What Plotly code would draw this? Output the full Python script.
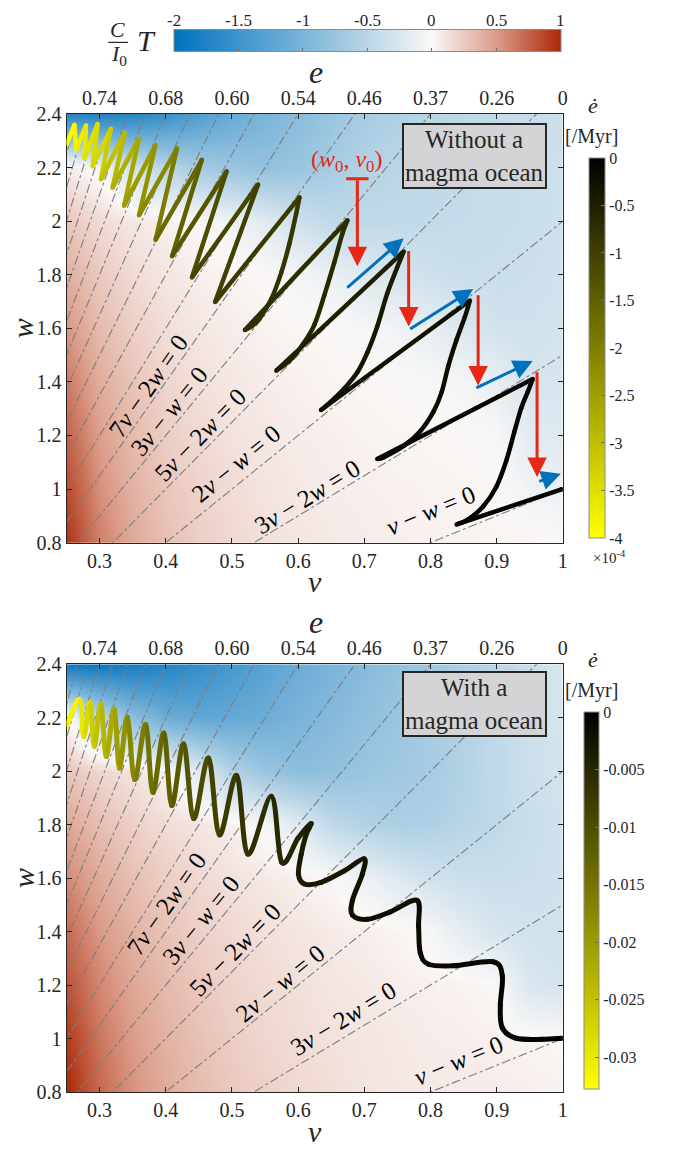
import math
import plotly.graph_objects as go
from plotly.colors import sample_colorscale

FIG_W, FIG_H = 685, 1154
SERIF = "Liberation Serif"
INK = "rgb(38,38,38)"
RED = "rgb(232,38,22)"
BLUE = "rgb(0,114,189)"

# ------------------------------------------------------------------ data
nu_grid = [0.25, 0.30, 0.35, 0.40, 0.45, 0.50, 0.55, 0.60, 0.65, 0.70, 0.75, 0.80, 0.85, 0.90, 0.95, 1.00]
w_grid = [0.8, 1.0, 1.2, 1.4, 1.6, 1.8, 2.0, 2.2, 2.4]

# torque C/I0 T, without a magma ocean (rows = w_grid, cols = nu_grid)
torque_top = [
    [0.95, 0.62, 0.43, 0.31, 0.23, 0.17, 0.13, 0.10, 0.08, 0.06, 0.05, 0.04, 0.03, 0.02, 0.02, 0.01],
    [0.85, 0.55, 0.38, 0.27, 0.20, 0.15, 0.11, 0.08, 0.06, 0.05, 0.04, 0.03, 0.02, 0.00, -0.08, -0.12],
    [0.75, 0.48, 0.33, 0.23, 0.17, 0.12, 0.09, 0.06, 0.05, 0.03, 0.02, 0.01, 0.00, -0.02, -0.18, -0.22],
    [0.64, 0.41, 0.28, 0.19, 0.13, 0.09, 0.06, 0.04, 0.02, 0.01, 0.00, -0.02, -0.05, -0.15, -0.28, -0.27],
    [0.52, 0.33, 0.22, 0.14, 0.09, 0.06, 0.03, 0.01, 0.00, -0.03, -0.08, -0.15, -0.25, -0.32, -0.33, -0.30],
    [0.40, 0.25, 0.16, 0.10, 0.05, 0.02, 0.00, -0.05, -0.12, -0.22, -0.30, -0.35, -0.38, -0.38, -0.36, -0.33],
    [0.27, 0.16, 0.09, 0.04, 0.00, -0.08, -0.20, -0.35, -0.45, -0.45, -0.45, -0.43, -0.42, -0.40, -0.38, -0.35],
    [0.08, -0.05, -0.30, -0.50, -0.65, -0.75, -0.80, -0.75, -0.65, -0.55, -0.50, -0.46, -0.43, -0.40, -0.38, -0.35],
    [-1.70, -1.75, -1.70, -1.55, -1.35, -1.15, -1.00, -0.88, -0.75, -0.65, -0.58, -0.52, -0.47, -0.43, -0.40, -0.36],
]
# torque C/I0 T, with a magma ocean
torque_bot = [
    [1.00, 0.72, 0.54, 0.42, 0.33, 0.26, 0.21, 0.17, 0.14, 0.11, 0.09, 0.08, 0.07, 0.06, 0.05, 0.04],
    [0.92, 0.66, 0.49, 0.38, 0.30, 0.23, 0.18, 0.15, 0.12, 0.10, 0.08, 0.06, 0.05, 0.04, 0.02, 0.00],
    [0.82, 0.59, 0.44, 0.34, 0.26, 0.20, 0.16, 0.13, 0.10, 0.08, 0.06, 0.04, 0.03, 0.00, -0.25, -0.30],
    [0.71, 0.51, 0.38, 0.29, 0.22, 0.17, 0.13, 0.10, 0.07, 0.05, 0.02, -0.03, -0.18, -0.28, -0.32, -0.32],
    [0.58, 0.42, 0.31, 0.23, 0.17, 0.12, 0.08, 0.04, 0.00, -0.10, -0.22, -0.32, -0.36, -0.38, -0.36, -0.33],
    [0.44, 0.31, 0.22, 0.15, 0.10, 0.04, -0.04, -0.20, -0.45, -0.55, -0.60, -0.58, -0.52, -0.45, -0.38, -0.33],
    [0.27, 0.18, 0.11, 0.02, -0.20, -0.55, -0.75, -0.85, -0.82, -0.75, -0.70, -0.65, -0.55, -0.45, -0.36, -0.30],
    [0.02, -0.45, -0.85, -1.10, -1.20, -1.18, -1.10, -1.00, -0.92, -0.83, -0.75, -0.65, -0.55, -0.45, -0.35, -0.28],
    [-1.90, -1.90, -1.82, -1.72, -1.58, -1.42, -1.27, -1.12, -1.00, -0.90, -0.80, -0.70, -0.60, -0.50, -0.37, -0.26],
]
torque_range = [-2.0, 1.0]
torque_ticks = [-2, -1.5, -1, -0.5, 0, 0.5, 1]
torque_ticktext = ["-2", "-1.5", "-1", "-0.5", "0", "0.5", "1"]

# resonance lines  k*nu - j*w = 0  ->  w = ratio * nu
resonance_ratios = [1.0, 1.5, 2.0, 2.5, 3.0, 3.5, 4.0, 4.5, 5.0, 5.5, 6.0, 6.5, 7.0, 7.5, 8.0, 8.5, 9.0, 9.5]

nu_ticks = [0.3, 0.4, 0.5, 0.6, 0.7, 0.8, 0.9, 1.0]
nu_ticktext = ["0.3", "0.4", "0.5", "0.6", "0.7", "0.8", "0.9", "1"]
e_ticktext = ["0.74", "0.68", "0.60", "0.54", "0.46", "0.37", "0.26", "0"]
w_ticks = [0.8, 1.0, 1.2, 1.4, 1.6, 1.8, 2.0, 2.2, 2.4]
w_ticktext = ["0.8", "1", "1.2", "1.4", "1.6", "1.8", "2", "2.2", "2.4"]

# trajectory without a magma ocean (edot in units of 1e-4 /Myr)
top_nu = [0.250, 0.262, 0.2645, 0.2795, 0.277, 0.297, 0.2895, 0.317, 0.302, 0.338,
          0.3195, 0.3595, 0.337, 0.3845, 0.3595, 0.417, 0.3845, 0.4545, 0.4095, 0.492,
          0.4395, 0.5395, 0.4745, 0.602, 0.597, 0.587, 0.5745, 0.5595, 0.542, 0.5295,
          0.5195, 0.6745, 0.667, 0.6545, 0.6395, 0.6245, 0.607, 0.587, 0.567, 0.7595,
          0.7495, 0.7345, 0.7195, 0.7045, 0.6895, 0.6695, 0.6495, 0.6345, 0.8595, 0.852,
          0.8395, 0.827, 0.817, 0.8045, 0.7845, 0.7595, 0.7295, 0.7195, 0.9545, 0.947,
          0.937, 0.927, 0.9145, 0.8995, 0.8795, 0.857, 0.8395, 0.998]
top_w = [2.284, 2.360, 2.266, 2.357, 2.235, 2.363, 2.205, 2.345, 2.156, 2.330,
         2.125, 2.308, 2.058, 2.284, 2.022, 2.272, 1.930, 2.229, 1.869, 2.186,
         1.790, 2.137, 1.698, 2.089, 2.028, 1.918, 1.808, 1.710, 1.637, 1.607,
         1.594, 2.003, 1.955, 1.845, 1.723, 1.613, 1.540, 1.479, 1.442, 1.887,
         1.826, 1.729, 1.607, 1.509, 1.436, 1.375, 1.326, 1.295, 1.704, 1.643,
         1.558, 1.460, 1.363, 1.289, 1.216, 1.161, 1.119, 1.112, 1.411, 1.363,
         1.302, 1.216, 1.106, 1.009, 0.935, 0.887, 0.868, 0.999]
top_edot = [-3.9, -3.9, -3.8, -3.7, -3.6, -3.5, -3.4, -3.3, -3.1, -3.0,
            -2.8, -2.7, -2.5, -2.4, -2.2, -2.1, -1.8, -1.5, -1.5, -1.2,
            -1.2, -1.0, -1.0, -0.85, -0.85, -0.85, -0.8, -0.8, -0.8, -0.75,
            -0.75, -0.7, -0.7, -0.65, -0.65, -0.6, -0.6, -0.55, -0.5, -0.45,
            -0.45, -0.4, -0.4, -0.35, -0.35, -0.3, -0.3, -0.28, -0.25, -0.25,
            -0.22, -0.2, -0.2, -0.18, -0.16, -0.15, -0.14, -0.12, -0.1, -0.1,
            -0.1, -0.08, -0.08, -0.06, -0.06, -0.05, -0.05, -0.03]

# trajectory with a magma ocean (edot in /Myr)
bot_nu = [0.2495, 0.2695, 0.276, 0.2855, 0.292, 0.302, 0.310, 0.322, 0.330, 0.342,
          0.353, 0.3695, 0.3805, 0.397, 0.409, 0.427, 0.442, 0.4645, 0.481, 0.507,
          0.524, 0.5595, 0.575, 0.600, 0.6195, 0.612, 0.6045, 0.6005, 0.6095,
          0.6345, 0.6695, 0.6995, 0.697, 0.682, 0.682, 0.7045, 0.7395, 0.7795, 0.782,
          0.7845, 0.797, 0.8345, 0.8945, 0.9085, 0.9055, 0.9085, 0.9295, 0.9695, 0.998]
bot_w = [2.165, 2.269, 2.130, 2.257, 2.093, 2.251, 2.055, 2.232, 2.012, 2.202,
         1.969, 2.175, 1.921, 2.143, 1.872, 2.102, 1.823, 2.049, 1.762, 1.984,
         1.690, 1.906, 1.660, 1.750, 1.804, 1.762, 1.688, 1.615, 1.578,
         1.584, 1.627, 1.673, 1.615, 1.517, 1.462, 1.446, 1.474, 1.517, 1.419,
         1.321, 1.278, 1.272, 1.287, 1.235, 1.125, 1.040, 1.001, 0.997, 1.001]
bot_edot = [-0.032, -0.031, -0.029, -0.027, -0.026, -0.024, -0.023, -0.021, -0.020, -0.018,
            -0.017, -0.015, -0.014, -0.013, -0.012, -0.011, -0.010, -0.009, -0.008, -0.007,
            -0.0062, -0.0056, -0.005, -0.0045, -0.004, -0.0038, -0.0036, -0.0034, -0.0032,
            -0.003, -0.0028, -0.0026, -0.0024, -0.0022, -0.002, -0.0018, -0.0016, -0.0015, -0.0014,
            -0.0013, -0.0012, -0.0011, -0.001, -0.0008, -0.0006, -0.0005, -0.0003, -0.0002, -0.0001]

edot_top_ticks = [0, -0.5, -1, -1.5, -2, -2.5, -3, -3.5, -4]
edot_top_ticktext = ["0", "-0.5", "-1", "-1.5", "-2", "-2.5", "-3", "-3.5", "-4"]
edot_bot_ticks = [0, -0.005, -0.01, -0.015, -0.02, -0.025, -0.03]
edot_bot_ticktext = ["0", "-0.005", "-0.01", "-0.015", "-0.02", "-0.025", "-0.03"]
edot_top_range = [-4.0, 0.0]
edot_bot_range = [-0.0328, 0.0]

# resonance labels
label_text = ["7<i>ν</i> − 2<i>w</i> = 0", "3<i>ν</i> − <i>w</i> = 0", "5<i>ν</i> − 2<i>w</i> = 0",
              "2<i>ν</i> − <i>w</i> = 0", "3<i>ν</i> − 2<i>w</i> = 0", "<i>ν</i> − <i>w</i> = 0"]
label_ratio = [3.5, 3.0, 2.5, 2.0, 1.5, 1.0]
label_nu_top = [0.3745, 0.4045, 0.4525, 0.5065, 0.6145, 0.8005]
label_w_top = [1.386, 1.291, 1.203, 1.096, 0.972, 0.920]
label_nu_bot = [0.4015, 0.4525, 0.505, 0.5725, 0.6685, 0.8425]
label_w_bot = [1.505, 1.442, 1.332, 1.207, 1.075, 0.917]

# spin-down (red) and resonance-drift (blue) arrows, top panel
drop_nu = [0.6895, 0.767, 0.872, 0.961]
drop_w_start = [2.158, 1.894, 1.729, 1.442]
drop_w_end = [1.832, 1.607, 1.387, 1.045]
slide_nu_start = [0.672, 0.767, 0.867, 0.962]
slide_w_start = [1.747, 1.594, 1.375, 1.027]
slide_nu_end = [0.7595, 0.8645, 0.9545, 0.997]
slide_w_end = [1.936, 1.747, 1.478, 1.057]

# ------------------------------------------------------------------ geometry
PX_L, PX_R = 67, 567
TOP_T, TOP_B = 105, 542
BOT_T, BOT_B = 666, 1102
CB_L, CB_R, CB_T, CB_B = 175, 565, 22, 44   # horizontal torque colour bar


def fx(px):
    return px / FIG_W


def fy(py):
    return 1 - py / FIG_H


def paper_text(px, py, text, size, angle=0, color=INK):
    return dict(x=fx(px), y=fy(py), xref="paper", yref="paper", text=text, showarrow=False,
                xanchor="center", yanchor="middle", textangle=angle,
                font=dict(family=SERIF, size=size, color=color))


torque_cs = [[0.0, "rgb(0,114,189)"], [0.1667, "rgb(62,148,204)"], [0.3333, "rgb(122,180,217)"],
             [0.5, "rgb(186,214,230)"], [0.6667, "rgb(250,248,247)"], [0.8333, "rgb(219,156,137)"],
             [1.0, "rgb(172,40,6)"]]
edot_cs = [[0.0, "rgb(255,255,0)"], [1.0, "rgb(0,0,0)"]]

fig = go.Figure()
shapes = []
annotations = []

panels = [
    dict(xa="x", ya="y", xe="x2", top=TOP_T, bot=TOP_B, z=torque_top, nu=top_nu, w=top_w, ed=top_edot,
         rng=edot_top_range, ticks=edot_top_ticks, tt=edot_top_ticktext, split=True, lw=4.5,
         cbx=593, cbthick=16, cbtop=150, cbbot=537,
         lnu=label_nu_top, lw_=label_w_top, box="Without a<br>magma ocean", box_w=2.244),
    dict(xa="x3", ya="y2", xe="x4", top=BOT_T, bot=BOT_B, z=torque_bot, nu=bot_nu, w=bot_w, ed=bot_edot,
         rng=edot_bot_range, ticks=edot_bot_ticks, tt=edot_bot_ticktext, split=False, lw=5,
         cbx=588, cbthick=15, cbtop=715, cbbot=1099,
         lnu=label_nu_bot, lw_=label_w_bot, box="With a<br>magma ocean", box_w=2.251),
]

for k, p in enumerate(panels):
    # background torque field
    hm = dict(x=nu_grid, y=w_grid, z=p["z"], colorscale=torque_cs, zmin=torque_range[0], zmax=torque_range[1],
              zsmooth="best", xaxis=p["xa"], yaxis=p["ya"], hoverinfo="skip", showscale=(k == 0))
    if k == 0:
        hm["colorbar"] = dict(orientation="h", x=fx((CB_L + CB_R) / 2), xanchor="center",
                              y=fy((CB_T + CB_B) / 2), yanchor="middle",
                              len=(CB_R - CB_L) / FIG_W, lenmode="fraction", thickness=CB_B - CB_T,
                              thicknessmode="pixels", xpad=0, ypad=0, tickvals=torque_ticks,
                              showticklabels=False, ticks="inside", ticklen=4, tickcolor="rgb(110,110,110)",
                              outlinewidth=1, outlinecolor="rgb(140,140,140)")
    fig.add_trace(go.Heatmap(**hm))

    # resonance lines
    for r in resonance_ratios:
        fig.add_trace(go.Scatter(x=[0.0, 1.0], y=[0.0, r], mode="lines", xaxis=p["xa"], yaxis=p["ya"],
                                 line=dict(color="rgb(125,125,125)", width=1.1, dash="dashdot"),
                                 hoverinfo="skip", showlegend=False))

    # trajectory: vertex markers carry the colour scale (and the colour bar)
    cmin, cmax = p["rng"]
    fig.add_trace(go.Scatter(
        x=p["nu"], y=p["w"], mode="markers", xaxis=p["xa"], yaxis=p["ya"], hoverinfo="skip", showlegend=False,
        marker=dict(size=p["lw"], color=p["ed"], colorscale=edot_cs, cmin=cmin, cmax=cmax, showscale=True,
                    line=dict(width=0),
                    colorbar=dict(x=fx(p["cbx"]), xanchor="left", y=fy((p["cbtop"] + p["cbbot"]) / 2),
                                  yanchor="middle", len=(p["cbbot"] - p["cbtop"]) / FIG_H, lenmode="fraction",
                                  thickness=p["cbthick"], thicknessmode="pixels", xpad=0, ypad=0,
                                  tickvals=p["ticks"], ticktext=p["tt"], ticks="inside", ticklen=4,
                                  tickcolor="rgb(110,110,110)",
                                  tickfont=dict(family=SERIF, size=16, color=INK),
                                  outlinewidth=1, outlinecolor="rgb(140,140,140)"))))

    # trajectory: smooth cubic segments through the read vertices
    nu, w, ed = p["nu"], p["w"], p["ed"]
    n = len(nu)
    assert len(w) == n and len(ed) == n
    breaks = {0, n - 1}
    if p["split"]:
        for i in range(1, n - 1):
            if (w[i] - w[i - 1]) * (w[i + 1] - w[i]) < 0:
                breaks.add(i)
    for i in range(n - 1):
        p1 = (nu[i], w[i])
        p2 = (nu[i + 1], w[i + 1])
        p0 = p1 if i in breaks else (nu[i - 1], w[i - 1])
        p3 = p2 if (i + 1) in breaks else (nu[i + 2], w[i + 2])
        c1 = (p1[0] + (p2[0] - p0[0]) / 6, p1[1] + (p2[1] - p0[1]) / 6)
        c2 = (p2[0] - (p3[0] - p1[0]) / 6, p2[1] - (p3[1] - p1[1]) / 6)
        frac = ((ed[i] + ed[i + 1]) / 2 - cmin) / (cmax - cmin)
        col = sample_colorscale(edot_cs, [min(max(frac, 0), 1)])[0]
        shapes.append(dict(type="path", xref=p["xa"], yref=p["ya"], layer="above",
                           path=f"M {p1[0]},{p1[1]} C {c1[0]},{c1[1]} {c2[0]},{c2[1]} {p2[0]},{p2[1]}",
                           line=dict(color=col, width=p["lw"])))

    # invisible trace so the top (e) axis is rendered
    fig.add_trace(go.Scatter(x=[0.5], y=[1.0], mode="markers", xaxis=p["xe"], yaxis=p["ya"],
                             marker=dict(opacity=0), hoverinfo="skip", showlegend=False))

    # resonance labels
    px_per_nu = (PX_R - PX_L) / 0.75
    px_per_w = (p["bot"] - p["top"]) / 1.6
    for t, r, x, y in zip(label_text, label_ratio, p["lnu"], p["lw_"]):
        ang = -math.degrees(math.atan(r * px_per_w / px_per_nu))
        annotations.append(dict(x=x, y=y, xref=p["xa"], yref=p["ya"], text=t, showarrow=False,
                                xanchor="center", yanchor="middle",
                                textangle=ang, font=dict(family=SERIF, size=25, color="black")))

    # panel title box
    annotations.append(dict(x=0.8665, y=p["box_w"], xref=p["xa"], yref=p["ya"], text=p["box"], showarrow=False,
                            xanchor="center", yanchor="middle",
                            font=dict(family=SERIF, size=25, color=INK), bgcolor="rgb(212,212,214)",
                            bordercolor=INK, borderwidth=2, borderpad=1))

    # axis titles
    mid_y = (p["top"] + p["bot"]) / 2
    annotations.append(paper_text(317, p["bot"] + 40, "<i>ν</i>", 30))
    annotations.append(paper_text(318, p["top"] - 43, "<i>e</i>", 32))
    annotations.append(paper_text(23, mid_y, "<i>w</i>", 30, angle=-90))
    # colour bar titles
    annotations.append(paper_text(597, p["cbtop"] - 54, "<i>ė</i>", 22))
    annotations.append(paper_text(596, p["cbtop"] - 22, "[/Myr]", 20))

annotations.append(paper_text(614, 557, "×10<sup>-4</sup>", 15))

# tick labels of the horizontal torque colour bar (drawn above the bar)
for t, tt in zip(torque_ticks, torque_ticktext):
    frac = (t - torque_range[0]) / (torque_range[1] - torque_range[0])
    annotations.append(paper_text(CB_L + frac * (CB_R - CB_L), 10, tt, 17))

# arrows (top panel)
for i in range(len(drop_nu)):
    annotations.append(dict(x=drop_nu[i], y=drop_w_end[i], ax=drop_nu[i], ay=drop_w_start[i],
                            xref="x", yref="y", axref="x", ayref="y", text="", showarrow=True,
                            arrowhead=2, arrowsize=1.3, arrowwidth=3, arrowcolor=RED))
for i in range(len(slide_nu_start)):
    annotations.append(dict(x=slide_nu_end[i], y=slide_w_end[i], ax=slide_nu_start[i], ay=slide_w_start[i],
                            xref="x", yref="y", axref="x", ayref="y", text="", showarrow=True,
                            arrowhead=2, arrowsize=1.3, arrowwidth=3, arrowcolor=BLUE))
fig.add_trace(go.Scatter(x=[drop_nu[0]], y=[drop_w_start[0]], mode="markers", xaxis="x", yaxis="y",
                         marker=dict(symbol="line-ew", size=16, line=dict(width=3, color=RED)),
                         hoverinfo="skip", showlegend=False))
annotations.append(dict(x=0.673, y=2.224, xref="x", yref="y", showarrow=False, xanchor="center",
                        yanchor="middle", text="(<i>w</i><sub>0</sub>, <i>ν</i><sub>0</sub>)",
                        font=dict(family=SERIF, size=24, color=RED)))

# colour-bar label  C/I0 T
annotations.append(paper_text(118, 19, "<i>C</i>", 22))
annotations.append(paper_text(120, 45, "<i>I</i><sub>0</sub>", 22))
annotations.append(paper_text(148, 30, "<i>T</i>", 30))
shapes.append(dict(type="line", xref="paper", yref="paper", x0=fx(109), x1=fx(129), y0=fy(32), y1=fy(32),
                   line=dict(color=INK, width=1.2)))

axis_common = dict(showline=True, linecolor=INK, linewidth=1, ticks="inside", ticklen=5, tickwidth=1,
                   tickcolor=INK, tickfont=dict(family=SERIF, size=20, color=INK), showgrid=False,
                   zeroline=False, fixedrange=True)
xdom = [fx(PX_L), fx(PX_R)]

fig.update_layout(
    width=FIG_W, height=FIG_H, margin=dict(l=0, r=0, t=0, b=0),
    paper_bgcolor="white", plot_bgcolor="white", showlegend=False,
    xaxis=dict(domain=xdom, range=[0.25, 1.0], anchor="y", tickvals=nu_ticks, ticktext=nu_ticktext,
               mirror=True, **axis_common),
    xaxis2=dict(overlaying="x", side="top", range=[0.25, 1.0], anchor="y", tickvals=nu_ticks,
                ticktext=e_ticktext, **axis_common),
    yaxis=dict(domain=[fy(TOP_B), fy(TOP_T)], range=[0.8, 2.4], anchor="x", tickvals=w_ticks,
               ticktext=w_ticktext, mirror="ticks", **axis_common),
    xaxis3=dict(domain=xdom, range=[0.25, 1.0], anchor="y2", tickvals=nu_ticks, ticktext=nu_ticktext,
                mirror=True, **axis_common),
    xaxis4=dict(overlaying="x3", side="top", range=[0.25, 1.0], anchor="y2", tickvals=nu_ticks,
                ticktext=e_ticktext, **axis_common),
    yaxis2=dict(domain=[fy(BOT_B), fy(BOT_T)], range=[0.8, 2.4], anchor="x3", tickvals=w_ticks,
                ticktext=w_ticktext, mirror="ticks", **axis_common),
    shapes=shapes, annotations=annotations,
)

fig.write_html("out.html")
